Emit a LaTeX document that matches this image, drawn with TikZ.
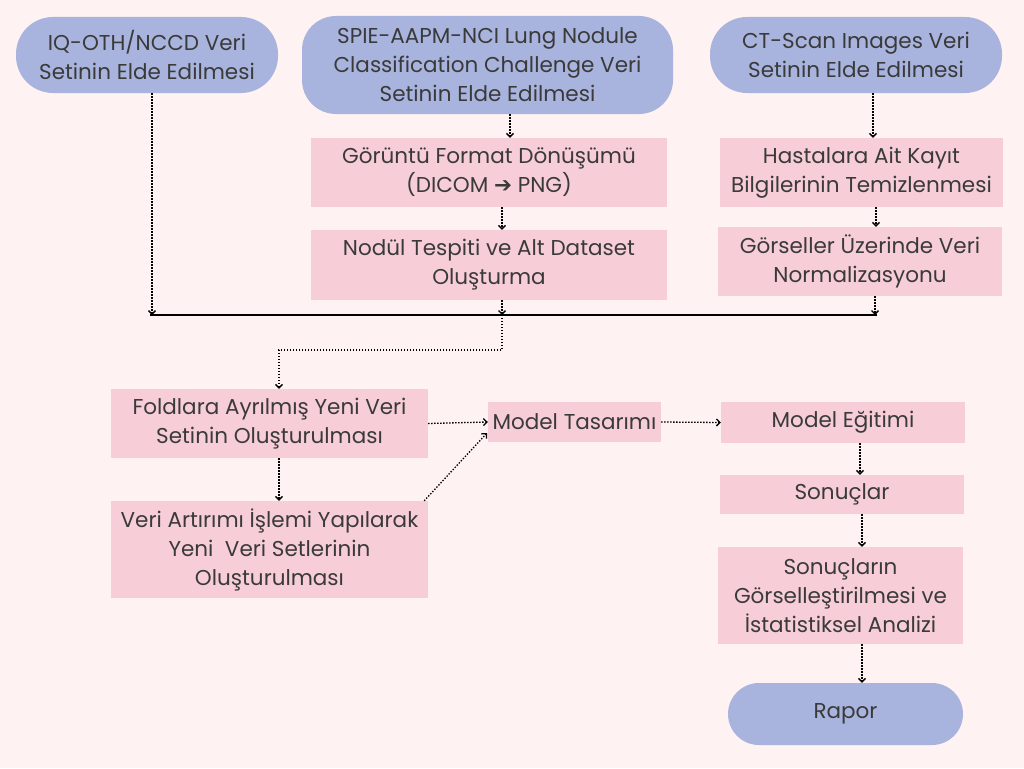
\documentclass[tikz,border=0pt]{standalone}
\usepackage{fontspec}
\setmainfont{Poppins}
\newfontfamily\arrowfont{DejaVu Sans}
\usetikzlibrary{arrows.meta,calc}
\definecolor{bgc}{RGB}{254,242,242}
\definecolor{pinkc}{RGB}{247,206,215}
\definecolor{bluec}{RGB}{169,180,222}
\definecolor{txtc}{RGB}{58,58,58}
\tikzset{
  base/.style={inner sep=0pt, align=center, text=txtc, font=\fontsize{21.5}{29}\selectfont},
  pinkbox/.style={base, fill=pinkc},
  pill/.style={base, fill=bluec, rounded corners=37pt},
  conn/.style={line width=1.3pt, dash pattern=on 1.4pt off 1.6pt, -{Straight Barb[length=3.5pt,width=7pt,line width=1.3pt]}},
  bus/.style={line width=1.3pt}
}
\begin{document}
\begin{tikzpicture}[x=1pt,y=-1pt]
\fill[bgc] (0,0) rectangle (1024,768);
\useasboundingbox (0,0) rectangle (1024,768);
% top row
\node[pill, minimum width=262pt, minimum height=76pt] (iq) at (147,55) {IQ-OTH/NCCD Veri\\Setinin Elde Edilmesi};
\node[pill, rounded corners=34pt, minimum width=371pt, minimum height=98pt] (spie) at (487.5,65) {SPIE-AAPM-NCI Lung Nodule\\Classification Challenge Veri\\Setinin Elde Edilmesi};
\node[pill, minimum width=292pt, minimum height=76pt] (ct) at (856,55) {CT-Scan Images Veri\\Setinin Elde Edilmesi};
% second column
\node[pinkbox, minimum width=356pt, minimum height=69pt] (fmt) at (489,172.5) {Görüntü Format Dönüşümü\\(DICOM {\arrowfont ➔} PNG)};
\node[pinkbox, minimum width=356pt, minimum height=70pt] (nod) at (489,265) {Nodül Tespiti ve Alt Dataset\\Oluşturma};
\node[pinkbox, minimum width=283pt, minimum height=69pt] (has) at (861.5,172.5) {Hastalara Ait Kayıt\\Bilgilerinin Temizlenmesi};
\node[pinkbox, minimum width=284pt, minimum height=69pt] (gor) at (860,261.5) {Görseller Üzerinde Veri\\Normalizasyonu};
% lower
\node[pinkbox, minimum width=317pt, minimum height=69pt] (fold) at (269.5,423.5) {Foldlara Ayrılmış Yeni Veri\\Setinin Oluşturulması};
\node[pinkbox, minimum width=317pt, minimum height=97pt] (art) at (269.5,549.5) {Veri Artırımı İşlemi Yapılarak\\Yeni\ \ Veri Setlerinin\\Oluşturulması};
\node[pinkbox, minimum width=173pt, minimum height=40pt] (tas) at (574.5,422) {Model Tasarımı};
\node[pinkbox, minimum width=244pt, minimum height=41pt] (egit) at (843,422.5) {Model Eğitimi};
\node[pinkbox, minimum width=244pt, minimum height=39pt] (son) at (842,494.5) {Sonuçlar};
\node[pinkbox, minimum width=245pt, minimum height=97pt] (sonv) at (840.5,595.5) {Sonuçların\\Görselleştirilmesi ve\\İstatistiksel Analizi};
\node[pill, rounded corners=31pt, minimum width=235pt, minimum height=62pt] (rap) at (845.5,714) {Rapor};
% junctions
\coordinate (j1) at (152,315);
\coordinate (j2) at (502,315);
\coordinate (j3) at (875,315);
\coordinate (k1) at (502,350);
\coordinate (xa) at (510,0);
\coordinate (xb) at (873,0);
\coordinate (xc) at (876,0);
\coordinate (xf) at (279,0);
\coordinate (xr) at (860,0);
\coordinate (xs) at (862,0);
\coordinate (ta) at (487,433);
% bus
\draw[bus] (150,315) coordinate (b0) -- (877,315) coordinate (b1);
% connectors
\draw[conn] (iq.south -| j1) -- (j1);
\draw[conn] (spie.south -| xa) -- (fmt.north -| xa);
\draw[conn] (fmt.south -| j2) -- (nod.north -| j2);
\draw[conn] (nod.south -| j2) -- (j2);
\draw[conn] (ct.south -| xb) -- (has.north -| xb);
\draw[conn] (has.south -| xc) -- (gor.north -| xc);
\draw[conn] (gor.south -| j3) -- (j3);
\draw[conn] (j2) -- (k1) -| (fold.north -| xf);
\draw[conn] (fold.south -| xf) -- (art.north -| xf);
\draw[conn] (fold.east) -- (tas.west);
\draw[conn] ($(art.north east)+(-4,0)$) -- (ta);
\draw[conn] (tas.east) -- (egit.west);
\draw[conn] (egit.south -| xr) -- (son.north -| xr);
\draw[conn] (son.south -| xs) -- (sonv.north -| xs);
\draw[conn] (sonv.south -| xs) -- (rap.north -| xs);
\end{tikzpicture}
\end{document}
